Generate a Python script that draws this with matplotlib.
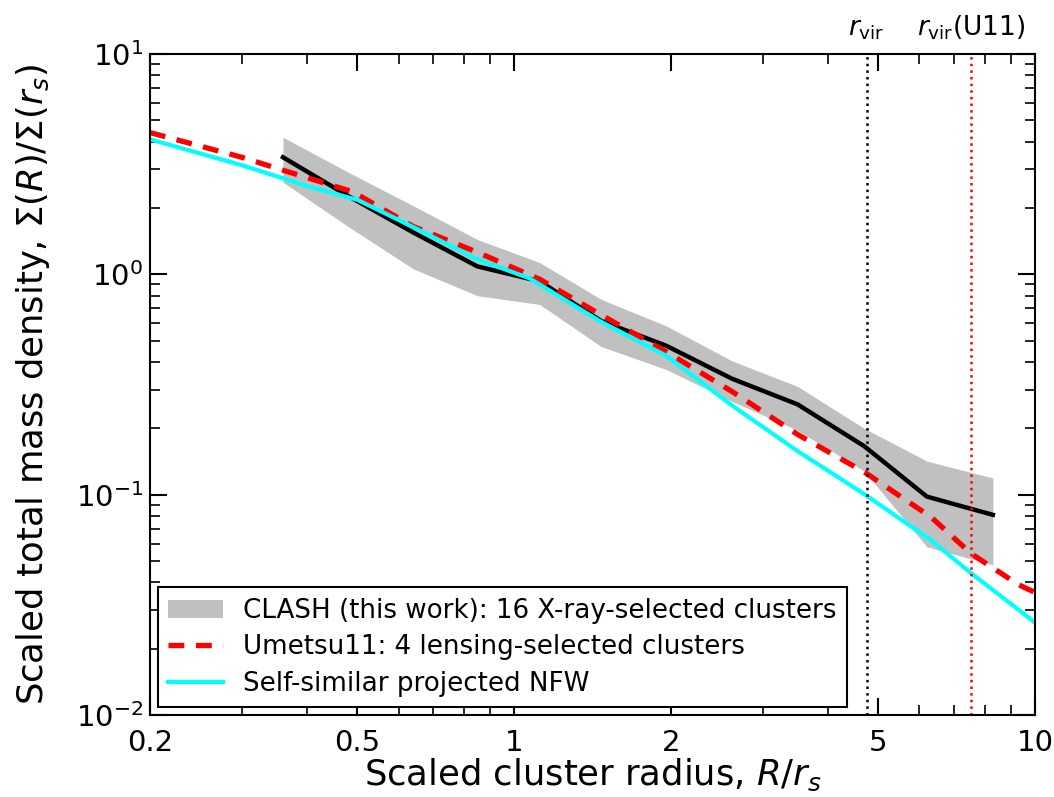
import matplotlib.pyplot as plt
import numpy as np
from matplotlib.ticker import FixedLocator, FixedFormatter, LogLocator, NullFormatter

# CLASH stacked profile (black line) and its gray band
r_clash = [0.36, 0.48, 0.64, 0.85, 1.12, 1.47, 1.96, 2.62, 3.5, 4.7, 6.2, 8.3]
sig_clash = [3.40, 2.27, 1.55, 1.087, 0.93, 0.614, 0.474, 0.336, 0.257, 0.166, 0.098, 0.081]
sig_hi = [4.19, 2.91, 2.05, 1.44, 1.13, 0.77, 0.583, 0.405, 0.31, 0.20, 0.142, 0.119]
sig_lo = [2.62, 1.65, 1.06, 0.80, 0.73, 0.47, 0.37, 0.265, 0.196, 0.128, 0.058, 0.048]

# Umetsu11 (red dashed)
r_u11 = [0.2, 0.3, 0.36, 0.49, 0.64, 0.85, 1.12, 1.46, 1.96, 2.62, 3.51, 4.72, 6.32, 7.54, 9.3, 10.0]
sig_u11 = [4.4, 3.4, 2.97, 2.37, 1.65, 1.26, 0.95, 0.66, 0.445, 0.294, 0.187, 0.126, 0.079, 0.054, 0.039, 0.036]

# self-similar projected NFW (cyan)
r_nfw = [0.2, 0.3, 0.4, 0.5, 0.64, 0.85, 1.07, 1.46, 1.96, 2.62, 3.51, 4.72, 6.32, 7.54, 10.0]
sig_nfw = [4.1, 3.13, 2.52, 2.18, 1.64, 1.17, 0.96, 0.614, 0.427, 0.254, 0.157, 0.10, 0.062, 0.044, 0.0263]

rvir = 4.75
rvir_u11 = 7.54

xticks = [0.2, 0.5, 1, 2, 5, 10]
xticklabels = ['0.2', '0.5', '1', '2', '5', '10']

fig = plt.figure(figsize=(10.54, 7.97), dpi=100)
ax = fig.add_axes([0.1423, 0.1029, 0.8397, 0.8293])

ax.fill_between(r_clash, sig_lo, sig_hi, color='#c0c0c0', lw=0,
                label='CLASH (this work): 16 X-ray-selected clusters')
ax.plot(r_clash, sig_clash, color='k', lw=3.2)
ax.plot(r_u11, sig_u11, color='red', lw=3.8, ls=(0, (3, 2.2)),
        label='Umetsu11: 4 lensing-selected clusters')
ax.plot(r_nfw, sig_nfw, color='cyan', lw=3, label='Self-similar projected NFW')

ax.axvline(rvir, color='k', ls=':', lw=1.8)
ax.axvline(rvir_u11, color='red', ls=':', lw=1.8)

ax.set_xscale('log')
ax.set_yscale('log')
ax.set_xlim(0.2, 10)
ax.set_ylim(1e-2, 1e1)

ax.xaxis.set_major_locator(FixedLocator(xticks))
ax.xaxis.set_major_formatter(FixedFormatter(xticklabels))
ax.xaxis.set_minor_locator(LogLocator(base=10, subs=np.arange(2, 10)))
ax.xaxis.set_minor_formatter(NullFormatter())
ax.yaxis.set_minor_locator(LogLocator(base=10, subs=np.arange(2, 10)))

ax.tick_params(which='both', direction='in', top=True, right=True, labelsize=21)
ax.tick_params(which='major', length=12, width=1.5)
ax.tick_params(which='minor', length=7, width=1.2)
ax.tick_params(axis='x', which='major', pad=10)
ax.tick_params(axis='y', which='major', pad=5)
for s in ax.spines.values():
    s.set_linewidth(1.5)

ax.set_xlabel(r'Scaled cluster radius, $R/r_s$', fontsize=25.5)
ax.set_ylabel(r'Scaled total mass density, $\Sigma(R)/\Sigma(r_s)$', fontsize=25.5)
ax.xaxis.set_label_coords(0.5, -0.063)
ax.yaxis.set_label_coords(-0.111, 0.5)

ax.text(rvir, 12.2, r'$r_{\rm vir}$', fontsize=19, ha='center', va='baseline')
ax.text(rvir_u11, 12.2, r'$r_{\rm vir}$(U11)', fontsize=19, ha='center', va='baseline')

leg = ax.legend(loc='lower left', fontsize=18.8, fancybox=False, framealpha=1,
                edgecolor='k', borderaxespad=0.3, handlelength=2.1,
                borderpad=0.4, labelspacing=0.4, handletextpad=0.75)
leg.get_frame().set_linewidth(1.5)

plt.savefig('out.png', dpi=100)
